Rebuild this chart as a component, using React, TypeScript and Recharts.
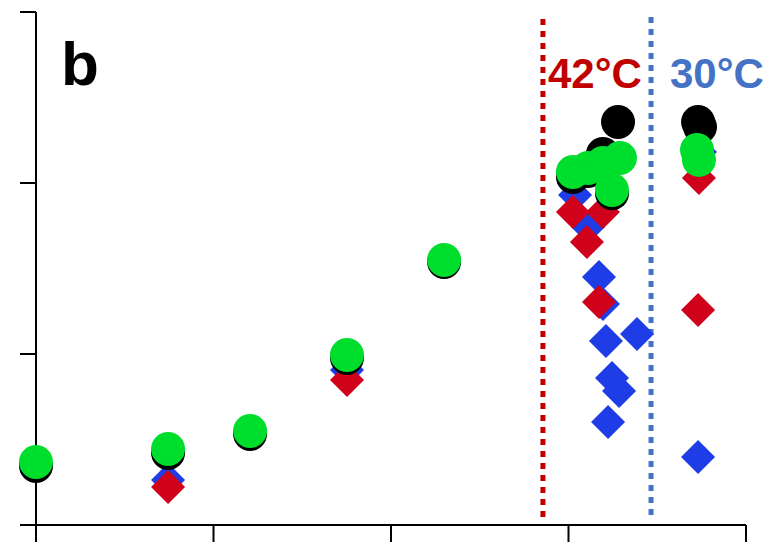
import React from 'react';
import { ScatterChart, Scatter, XAxis, YAxis, ReferenceLine } from 'recharts';

// Series readings as [x, y] pairs
const blueDiamonds: [number, number][] = [
  [0.0, 0.36], [0.744, 0.263], [1.206, 0.545], [1.752, 0.906], [2.299, 1.548],
  [3.037, 1.93], [3.11, 1.743], [3.172, 1.45], [3.194, 1.292], [3.211, 1.076],
  [3.386, 1.117], [3.245, 0.86], [3.285, 0.784], [3.223, 0.602],
  [3.741, 2.181], [3.73, 0.398],
];
const redDiamonds: [number, number][] = [
  [0.0, 0.358], [0.744, 0.222], [1.206, 0.542], [1.752, 0.848], [2.299, 1.546],
  [3.025, 1.83], [3.194, 1.83], [3.104, 1.655], [3.172, 1.304],
  [3.735, 2.029], [3.73, 1.257],
];
const blackCircles: [number, number][] = [
  [0.0, 0.345], [0.744, 0.421], [1.206, 0.532], [1.752, 0.977], [2.299, 1.538],
  [3.025, 2.035], [3.11, 2.07], [3.194, 2.17], [3.279, 2.357], [3.245, 1.94],
  [3.73, 2.357], [3.741, 2.327],
];
const greenCircles: [number, number][] = [
  [0.0, 0.368], [0.744, 0.444], [1.206, 0.55], [1.752, 0.994], [2.299, 1.55],
  [3.025, 2.064], [3.11, 2.088], [3.194, 2.117], [3.29, 2.146], [3.245, 1.959],
  [3.724, 2.193], [3.735, 2.135],
];

const xTicks = [0, 1, 2, 3, 4];
const yTicks = [0, 1, 2, 3];

// Temperature shift markers
const hotShiftX = 2.856;
const coolShiftX = 3.465;
const hotLabel = '42°C';
const coolLabel = '30°C';
const panelLabel = 'b';

const GREEN = '#00DE2D';
const BLACK = '#000000';
const BLUE = '#1E3DE6';
const RED = '#D0021B';
const HOT = '#C00000';
const COOL = '#4472C4';

const toRows = (pts: [number, number][]) => pts.map(([x, y]) => ({ x, y }));

const R = 17;

const circleShape = (fill: string) => (props: any) => (
  <circle cx={props.cx} cy={props.cy} r={R} fill={fill} />
);

const diamondShape = (fill: string) => (props: any) => {
  const { cx, cy } = props;
  return (
    <polygon
      points={`${cx},${cy - R} ${cx + R},${cy} ${cx},${cy + R} ${cx - R},${cy}`}
      fill={fill}
    />
  );
};

const noText = () => '';

export default function App() {
  return (
    <div style={{ position: 'absolute', left: 0, top: 0, width: 772, height: 543, background: '#fff' }}>
      <ScatterChart
        width={772}
        height={543}
        margin={{ top: 12, right: 26, bottom: 0, left: 16 }}
      >
        <XAxis
          type="number"
          dataKey="x"
          domain={[0, 4]}
          ticks={xTicks}
          height={18}
          tickFormatter={noText}
          tickSize={17}
          axisLine={{ stroke: '#000', strokeWidth: 2 }}
          tickLine={{ stroke: '#000', strokeWidth: 2 }}
        />
        <YAxis
          type="number"
          dataKey="y"
          domain={[0, 3]}
          ticks={yTicks}
          width={20}
          tickFormatter={noText}
          tickSize={16}
          axisLine={{ stroke: '#000', strokeWidth: 2 }}
          tickLine={{ stroke: '#000', strokeWidth: 2 }}
        />
        <ReferenceLine
          segment={[{ x: hotShiftX, y: 0.047 }, { x: hotShiftX, y: 2.971 }]}
          stroke={HOT}
          strokeWidth={5}
          strokeDasharray="6 6"
        />
        <ReferenceLine
          segment={[{ x: coolShiftX, y: 0.058 }, { x: coolShiftX, y: 3 }]}
          stroke={COOL}
          strokeWidth={5}
          strokeDasharray="6 6"
        />
        <Scatter data={toRows(blueDiamonds)} shape={diamondShape(BLUE)} isAnimationActive={false} />
        <Scatter data={toRows(redDiamonds)} shape={diamondShape(RED)} isAnimationActive={false} />
        <Scatter data={toRows(blackCircles)} shape={circleShape(BLACK)} isAnimationActive={false} />
        <Scatter data={toRows(greenCircles)} shape={circleShape(GREEN)} isAnimationActive={false} />
      </ScatterChart>
      <svg
        width={772}
        height={543}
        style={{ position: 'absolute', left: 0, top: 0, pointerEvents: 'none' }}
      >
        <text x={61} y={85} fontFamily="Liberation Sans, Arial, sans-serif" fontWeight="bold" fontSize={62} fill="#000">
          {panelLabel}
        </text>
        <text x={548} y={88} fontFamily="Liberation Sans, Arial, sans-serif" fontWeight="bold" fontSize={42} fill={HOT}>
          {hotLabel}
        </text>
        <text x={670} y={88} fontFamily="Liberation Sans, Arial, sans-serif" fontWeight="bold" fontSize={42} fill={COOL}>
          {coolLabel}
        </text>
      </svg>
    </div>
  );
}
